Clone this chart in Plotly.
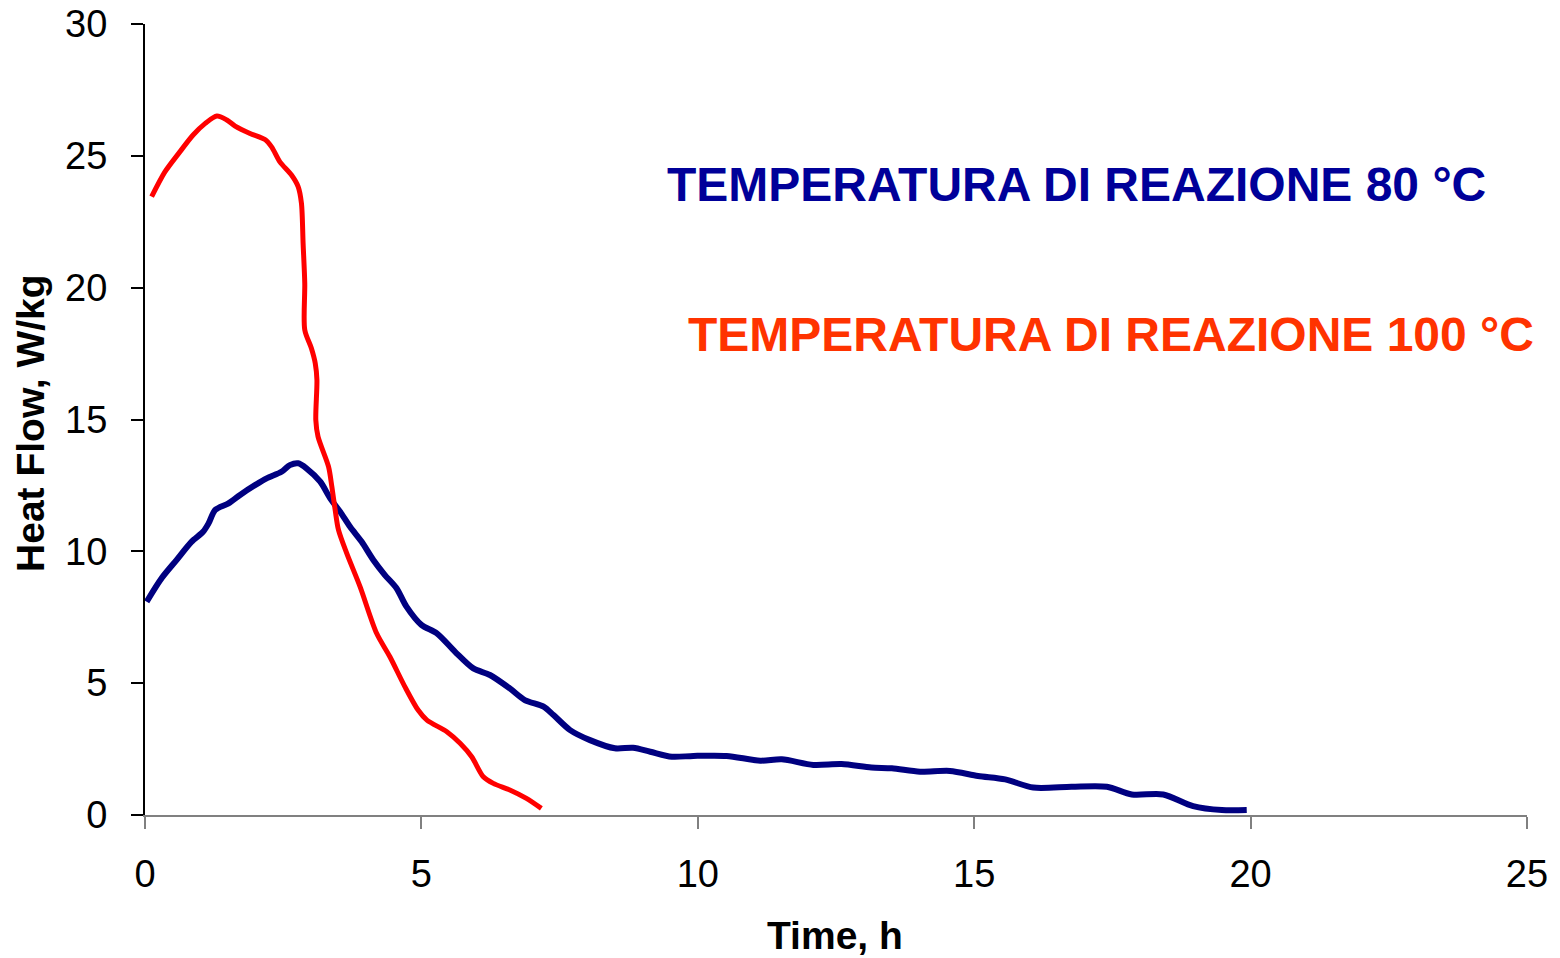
import plotly.graph_objects as go

# Reaction at 80 °C (navy curve)
time_80 = [0.03, 0.30, 0.57, 0.84, 1.05, 1.15, 1.27, 1.51, 1.72, 1.99, 2.20, 2.47, 2.62, 2.77,
           2.92, 3.17, 3.35, 3.53, 3.71, 3.92, 4.13, 4.34, 4.55, 4.73, 5.00, 5.28, 5.61, 5.94,
           6.24, 6.60, 6.87, 7.21, 7.39, 7.69, 8.05, 8.50, 8.83, 9.14, 9.53, 9.92, 10.52, 11.13,
           11.52, 12.09, 12.60, 13.14, 13.51, 14.02, 14.56, 15.07, 15.56, 16.07, 16.76, 17.40,
           17.85, 18.42, 18.96, 19.48, 19.93]
heat_80 = [8.09, 8.98, 9.67, 10.36, 10.74, 11.06, 11.57, 11.82, 12.14, 12.51, 12.77, 13.02, 13.27, 13.34,
           13.15, 12.64, 12.01, 11.50, 10.93, 10.36, 9.67, 9.10, 8.60, 7.90, 7.21, 6.89, 6.19, 5.56,
           5.31, 4.80, 4.36, 4.11, 3.79, 3.22, 2.84, 2.53, 2.55, 2.40, 2.21, 2.24, 2.24, 2.06,
           2.11, 1.90, 1.93, 1.80, 1.77, 1.64, 1.67, 1.48, 1.35, 1.04, 1.07, 1.07,
           0.78, 0.78, 0.34, 0.19, 0.19]

# Reaction at 100 °C (red curve)
time_100 = [0.12, 0.36, 0.63, 0.87, 1.09, 1.30, 1.48, 1.63, 1.90, 2.17, 2.29, 2.44, 2.65, 2.77,
            2.83, 2.86, 2.89, 2.89, 3.01, 3.08, 3.11, 3.09, 3.13, 3.32, 3.38, 3.44, 3.50, 3.65,
            3.89, 4.19, 4.43, 4.70, 4.94, 5.10, 5.46, 5.70, 5.91, 6.12, 6.30, 6.60, 6.90, 7.17]
heat_100 = [23.45, 24.39, 25.15, 25.79, 26.23, 26.51, 26.36, 26.13, 25.85, 25.62, 25.34, 24.77, 24.27, 23.83,
            23.20, 21.68, 20.16, 18.40, 17.70, 17.13, 16.50, 14.98, 14.35, 13.21, 12.45, 11.57, 10.81, 9.92,
            8.66, 6.89, 6.00, 4.87, 3.98, 3.60, 3.16, 2.72, 2.21, 1.45, 1.20, 0.95, 0.63, 0.25]

x_ticks = [0, 5, 10, 15, 20, 25]
y_ticks = [0, 5, 10, 15, 20, 25, 30]

label_80 = "TEMPERATURA DI REAZIONE 80 °C"
label_100 = "TEMPERATURA DI REAZIONE 100 °C"

FONT = "Arial, Liberation Sans, sans-serif"

fig = go.Figure()

fig.add_trace(go.Scatter(
    x=time_80, y=heat_80, mode='lines', name=label_80,
    line=dict(color='#000080', width=6, shape='spline', smoothing=0.8)
))
fig.add_trace(go.Scatter(
    x=time_100, y=heat_100, mode='lines', name=label_100,
    line=dict(color='#FF0000', width=5, shape='spline', smoothing=0.8)
))

# curve labels
fig.add_annotation(x=9.41, y=23.93, xref='x', yref='y', text=label_80, showarrow=False,
                   xanchor='left', yanchor='middle',
                   font=dict(family=FONT, size=48, color='#000099', weight='bold'))
fig.add_annotation(x=9.79, y=18.24, xref='x', yref='y', text=label_100, showarrow=False,
                   xanchor='left', yanchor='middle',
                   font=dict(family=FONT, size=48, color='#FF3300', weight='bold'))

# axis titles
fig.add_annotation(x=-0.083, y=0.496, xref='paper', yref='paper', text='Heat Flow, W/kg',
                   showarrow=False, textangle=-90, xanchor='center', yanchor='middle',
                   font=dict(family=FONT, size=39, color='black', weight='bold'))
fig.add_annotation(x=0.4993, y=-0.152, xref='paper', yref='paper', text='Time, h',
                   showarrow=False, xanchor='center', yanchor='middle',
                   font=dict(family=FONT, size=39, color='black', weight='bold'))

# the page body adds an 8px offset, so the figure is 8px smaller and margins shifted
fig.update_layout(
    width=1552, height=950,
    margin=dict(l=137, r=33, t=16, b=143),
    plot_bgcolor='white', paper_bgcolor='white',
    showlegend=False,
    font=dict(family=FONT, size=38, color='black')
)

fig.update_xaxes(
    range=[0, 25], tickvals=x_ticks, ticktext=[str(v) for v in x_ticks],
    showgrid=False, zeroline=False, showline=True, linecolor='#808080', linewidth=2,
    ticks='outside', ticklen=12, tickcolor='#808080', tickwidth=2,
    ticklabelstandoff=12, automargin=False, ticklabeloverflow='allow'
)
fig.update_yaxes(
    range=[0, 30], tickvals=y_ticks, ticktext=[str(v) for v in y_ticks],
    showgrid=False, zeroline=False, showline=True, linecolor='black', linewidth=2,
    ticks='outside', ticklen=12, tickcolor='black', tickwidth=2,
    ticklabelstandoff=16, automargin=False, ticklabeloverflow='allow'
)

fig.write_html("out.html")
